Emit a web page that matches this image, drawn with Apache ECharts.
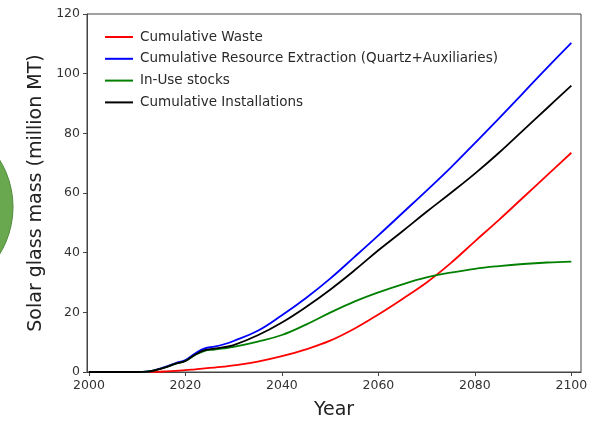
<!DOCTYPE html>
<html>
<head>
<meta charset="utf-8">
<script src="https://cdn.jsdelivr.net/npm/echarts@6/dist/echarts.min.js"></script>
<style>
  html, body { margin: 0; padding: 0; background: #fff; }
  #chart { width: 600px; height: 425px; }
</style>
</head>
<body>
<div id="chart"></div>
<script>
  // values (million MT)
  const years = [2000, 2005, 2010, 2012, 2014, 2016, 2018, 2020, 2022, 2024, 2026, 2028, 2030,
    2035, 2040, 2045, 2050, 2055, 2060, 2065, 2070, 2075, 2080, 2085, 2090, 2095, 2100];
  const waste = [0, 0, 0, 0, 0.05, 0.2, 0.4, 0.6, 0.9, 1.2, 1.5, 1.8, 2.2,
    3.5, 5.3, 7.6, 10.5, 14.5, 19.3, 24.5, 30.0, 36.5, 43.8, 51.0, 58.5, 66.0, 73.5];
  const extraction = [0, 0, 0, 0.1, 0.8, 1.8, 3.0, 4.0, 6.2, 7.9, 8.5, 9.3, 10.4,
    13.8, 19.0, 24.8, 31.3, 38.5, 45.8, 53.3, 60.8, 68.5, 76.7, 85.0, 93.5, 102.0, 110.3];
  const inUse = [0, 0, 0, 0.1, 0.7, 1.6, 2.8, 3.7, 5.7, 7.1, 7.5, 7.9, 8.4,
    10.2, 12.4, 15.9, 19.9, 23.6, 26.7, 29.4, 31.7, 33.3, 34.6, 35.5, 36.2, 36.7, 37.0];
  const installs = [0, 0, 0, 0.1, 0.7, 1.6, 2.8, 3.7, 5.8, 7.3, 7.8, 8.3, 9.0,
    12.3, 16.6, 21.8, 27.6, 34.0, 40.8, 47.2, 53.7, 60.0, 66.5, 73.5, 81.0, 88.5, 96.0];
  const xTicks = [2000, 2020, 2040, 2060, 2080, 2100];

  function pairs(vals) {
    return years.map(function (y, i) { return [y, vals[i]]; });
  }
  function line(name, color, vals) {
    return {
      name: name,
      type: 'line',
      data: pairs(vals),
      showSymbol: false,
      smooth: 0.4,
      lineStyle: { color: color, width: 1.8 },
      itemStyle: { color: color }
    };
  }

  let chart = echarts.init(document.getElementById('chart'));
  let option = {
    animation: false,
    backgroundColor: '#fff',
    textStyle: { fontFamily: 'DejaVu Sans' },
    grid: {
      left: 87, right: 19, top: 14, bottom: 48,
      show: true, borderColor: '#444', borderWidth: 1
    },
    graphic: [{
      type: 'circle',
      shape: { cx: -77, cy: 207, r: 90 },
      style: { fill: '#6aa84f', stroke: '#4f8a3a', lineWidth: 1 },
      silent: true
    }],
    legend: {
      orient: 'vertical',
      left: 100,
      top: 25,
      itemWidth: 28,
      itemHeight: 14,
      itemGap: 7.8,
      icon: 'path://M0,6 L28,6 L28,8 L0,8 Z',
      textStyle: { fontSize: 13.5, color: '#2a2a2a', fontFamily: 'DejaVu Sans', padding: [0, 0, 0, 2] },
      data: ['Cumulative Waste', 'Cumulative Resource Extraction (Quartz+Auxiliaries)',
        'In-Use stocks', 'Cumulative Installations']
    },
    xAxis: {
      type: 'value',
      min: 1999.6,
      max: 2102,
      name: 'Year',
      nameLocation: 'middle',
      nameGap: 29,
      nameTextStyle: { fontSize: 19, color: '#222' },
      axisLine: { show: true, lineStyle: { color: '#444' } },
      axisTick: { show: true, length: 4, customValues: xTicks, lineStyle: { color: '#444' } },
      axisLabel: {
        customValues: xTicks, fontSize: 12.5, color: '#333', margin: 7,
        formatter: function (v) { return String(v); }
      },
      splitLine: { show: false }
    },
    yAxis: {
      type: 'value',
      min: 0,
      max: 120,
      interval: 20,
      name: 'Solar glass mass (million MT)',
      nameLocation: 'middle',
      nameGap: 33,
      nameTextStyle: { fontSize: 19, color: '#222' },
      axisLine: { show: true, lineStyle: { color: '#444' } },
      axisTick: { show: true, length: 4, lineStyle: { color: '#444' } },
      axisLabel: { fontSize: 12.5, color: '#333', margin: 7 },
      splitLine: { show: false }
    },
    series: [
      line('Cumulative Waste', '#ff0000', waste),
      line('Cumulative Resource Extraction (Quartz+Auxiliaries)', '#0000ff', extraction),
      line('In-Use stocks', '#008000', inUse),
      line('Cumulative Installations', '#000000', installs)
    ]
  };
  chart.setOption(option);
</script>
</body>
</html>
